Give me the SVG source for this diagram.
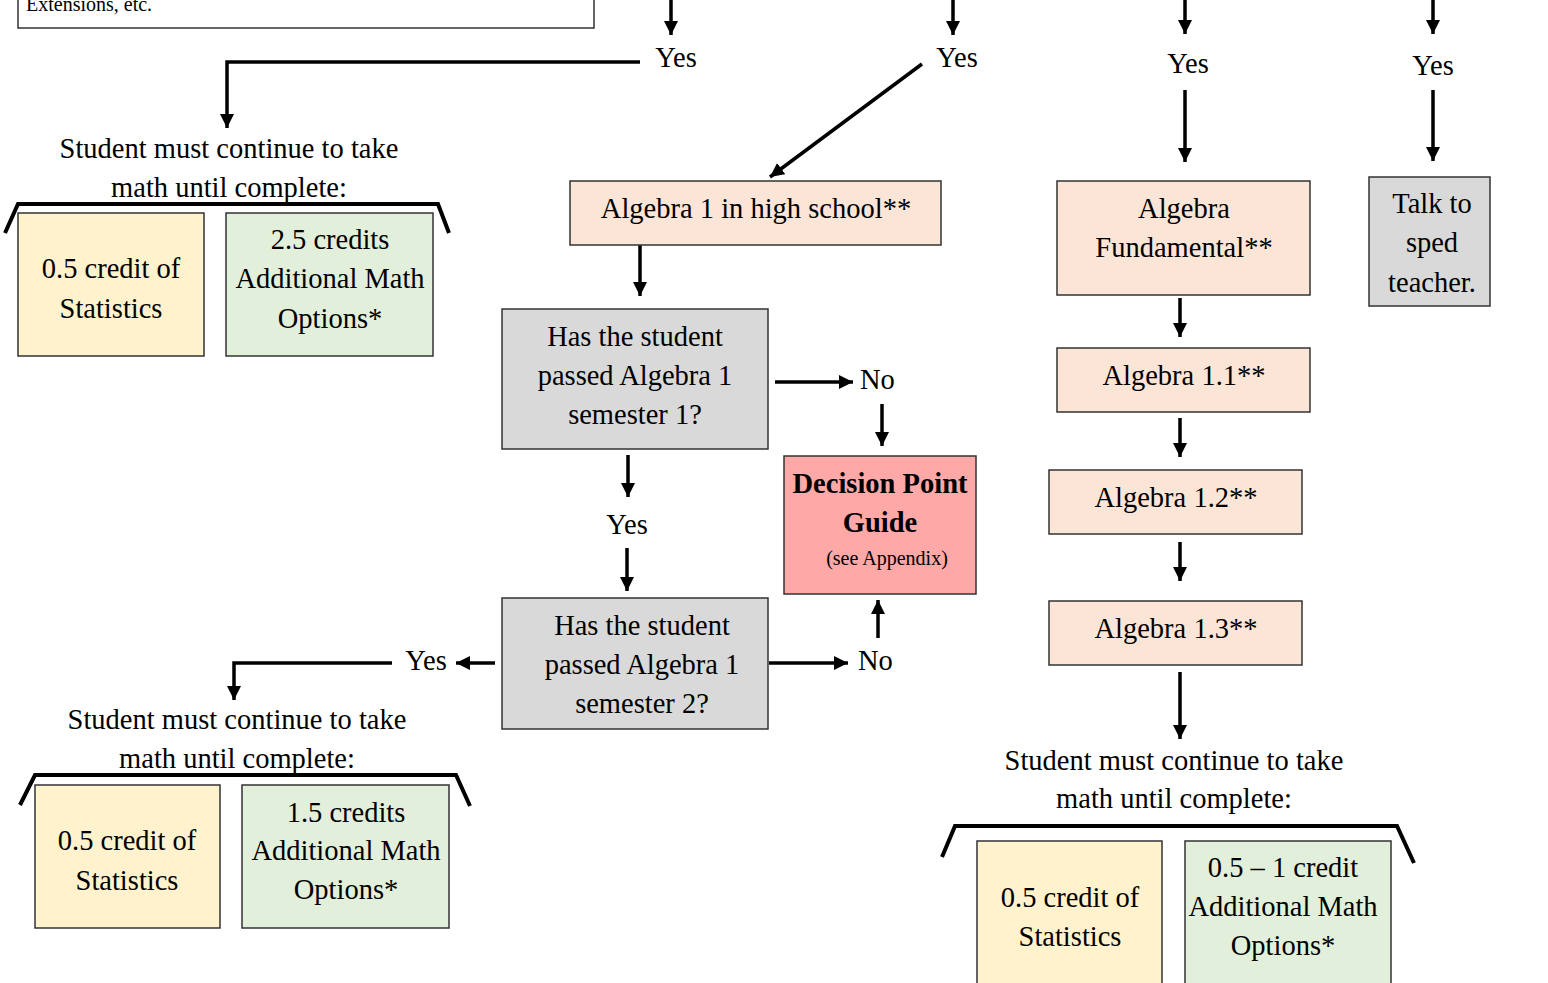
<svg xmlns="http://www.w3.org/2000/svg" width="1548" height="983" viewBox="0 0 1548 983">
<style>
text{font-family:"Liberation Serif","Times New Roman",serif;font-size:28.5px;fill:#000;text-anchor:middle}
.l{text-anchor:start}
.box{stroke:#333;stroke-width:1.5}
.peach{fill:#FBE5D6}.gray{fill:#D9D9D9}.yel{fill:#FFF2CC}.grn{fill:#E2EFDA}.red{fill:#FFA8A8}
.c line,.c polyline{stroke:#000;stroke-width:3.5;fill:none}
.br{stroke:#000;stroke-width:4;fill:none}
</style>
<defs>
<marker id="ah" markerUnits="userSpaceOnUse" markerWidth="16" markerHeight="16" refX="14" refY="7" orient="auto"><path d="M0,0 L14,7 L0,14 z" fill="#000"/></marker>
</defs>
<rect width="1548" height="983" fill="#fff"/>

<g id="topbox"><rect class="box" x="18" y="-60" width="576" height="88" fill="#fff"/><text class="l" x="26" y="11" style="font-size:20px">Extensions, etc.</text></g>

<g class="c" id="connectors">
<line x1="671" y1="0" x2="671" y2="35" marker-end="url(#ah)"/>
<polyline points="640,62 227,62 227,128" marker-end="url(#ah)"/>
<line x1="953" y1="0" x2="953" y2="35" marker-end="url(#ah)"/>
<line x1="922" y1="64" x2="770" y2="177" marker-end="url(#ah)"/>
<line x1="640" y1="245" x2="640" y2="296" marker-end="url(#ah)"/>
<line x1="775" y1="382" x2="853" y2="382" marker-end="url(#ah)"/>
<line x1="882" y1="404" x2="882" y2="446" marker-end="url(#ah)"/>
<line x1="628" y1="455" x2="628" y2="497" marker-end="url(#ah)"/>
<line x1="627" y1="548" x2="627" y2="591" marker-end="url(#ah)"/>
<line x1="769" y1="663" x2="848" y2="663" marker-end="url(#ah)"/>
<line x1="878" y1="638" x2="878" y2="600" marker-end="url(#ah)"/>
<line x1="495" y1="663" x2="456" y2="663" marker-end="url(#ah)"/>
<polyline points="392,663 234,663 234,700" marker-end="url(#ah)"/>
<line x1="1185" y1="0" x2="1185" y2="34" marker-end="url(#ah)"/>
<line x1="1185" y1="90" x2="1185" y2="162" marker-end="url(#ah)"/>
<line x1="1180" y1="298" x2="1180" y2="337" marker-end="url(#ah)"/>
<line x1="1180" y1="418" x2="1180" y2="457" marker-end="url(#ah)"/>
<line x1="1180" y1="542" x2="1180" y2="581" marker-end="url(#ah)"/>
<line x1="1180" y1="672" x2="1180" y2="739" marker-end="url(#ah)"/>
<line x1="1433" y1="0" x2="1433" y2="34" marker-end="url(#ah)"/>
<line x1="1433" y1="90" x2="1433" y2="161" marker-end="url(#ah)"/>
</g>

<g id="labels">
<text x="676" y="67">Yes</text>
<text x="957" y="67">Yes</text>
<text x="1188" y="73">Yes</text>
<text x="1433" y="75">Yes</text>
<text class="l" x="860" y="389">No</text>
<text x="627" y="534">Yes</text>
<text class="l" x="858" y="670">No</text>
<text x="426" y="670">Yes</text>
</g>

<g id="req1">
<text x="229" y="158">Student must continue to take</text>
<text x="229" y="197">math until complete:</text>
<polyline class="br" points="5,233 18,204 438,204 449,233"/>
<rect class="box yel" x="18" y="213" width="186" height="143"/>
<text x="111" y="278">0.5 credit of</text><text x="111" y="318">Statistics</text>
<rect class="box grn" x="226" y="213" width="207" height="143"/>
<text x="330" y="249">2.5 credits</text><text x="330" y="288">Additional Math</text><text x="330" y="328">Options*</text>
</g>

<g id="alg1hs"><rect class="box peach" x="570" y="181" width="371" height="64"/><text x="756" y="218">Algebra 1 in high school**</text></g>

<g id="q1"><rect class="box gray" x="502" y="309" width="266" height="140"/>
<text x="635" y="346">Has the student</text><text x="635" y="385">passed Algebra 1</text><text x="635" y="424">semester 1?</text></g>

<g id="dpg"><rect class="box red" x="784" y="456" width="192" height="138"/>
<text x="880" y="493" style="font-weight:bold">Decision Point</text><text x="880" y="532" style="font-weight:bold">Guide</text><text x="887" y="565" style="font-size:20px">(see Appendix)</text></g>

<g id="q2"><rect class="box gray" x="502" y="598" width="266" height="131"/>
<text x="642" y="635">Has the student</text><text x="642" y="674">passed Algebra 1</text><text x="642" y="713">semester 2?</text></g>

<g id="req2">
<text x="237" y="729">Student must continue to take</text>
<text x="237" y="768">math until complete:</text>
<polyline class="br" points="20,805 35,775 456,775 470,806"/>
<rect class="box yel" x="35" y="785" width="185" height="143"/>
<text x="127" y="850">0.5 credit of</text><text x="127" y="890">Statistics</text>
<rect class="box grn" x="242" y="785" width="207" height="143"/>
<text x="346" y="822">1.5 credits</text><text x="346" y="860">Additional Math</text><text x="346" y="899">Options*</text>
</g>

<g id="algfund"><rect class="box peach" x="1057" y="181" width="253" height="114"/><text x="1184" y="218">Algebra</text><text x="1184" y="257">Fundamental**</text></g>
<g id="alg11"><rect class="box peach" x="1057" y="348" width="253" height="64"/><text x="1184" y="385">Algebra 1.1**</text></g>
<g id="alg12"><rect class="box peach" x="1049" y="470" width="253" height="64"/><text x="1176" y="507">Algebra 1.2**</text></g>
<g id="alg13"><rect class="box peach" x="1049" y="601" width="253" height="64"/><text x="1176" y="638">Algebra 1.3**</text></g>

<g id="sped"><rect class="box gray" x="1369" y="177" width="121" height="129"/><text x="1432" y="213">Talk to</text><text x="1432" y="252">sped</text><text x="1432" y="292">teacher.</text></g>

<g id="req3">
<text x="1174" y="770">Student must continue to take</text>
<text x="1174" y="808">math until complete:</text>
<polyline class="br" points="942,857 955,826 1397,826 1414,863"/>
<rect class="box yel" x="977" y="841" width="185" height="160"/>
<text x="1070" y="907">0.5 credit of</text><text x="1070" y="946">Statistics</text>
<rect class="box grn" x="1185" y="841" width="206" height="160"/>
<text x="1283" y="877">0.5 – 1 credit</text><text x="1283" y="916">Additional Math</text><text x="1283" y="955">Options*</text>
</g>
</svg>
